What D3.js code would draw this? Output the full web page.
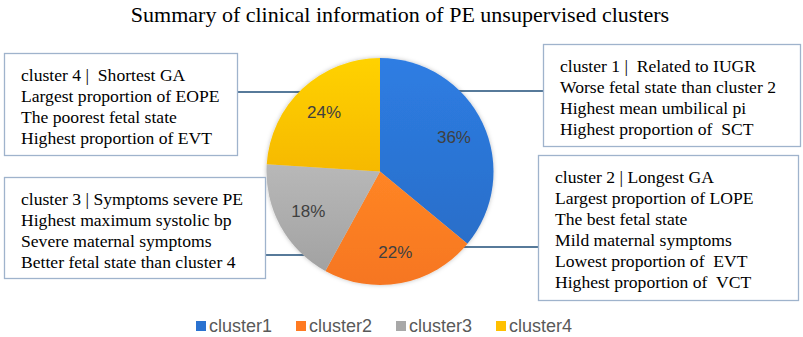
<!DOCTYPE html>
<html>
<head>
<meta charset="utf-8">
<script src="https://cdn.jsdelivr.net/npm/d3@7"></script>
<style>
  body { margin: 0; background: #fff; }
  svg { display: block; }
</style>
</head>
<body>
<svg id="chart" width="803" height="337"></svg>
<script>
'use strict';

// data
var aClusters = ['cluster1', 'cluster2', 'cluster3', 'cluster4'];
var aShares = [36, 22, 18, 24];
var aColors = ['#2a72d0', '#ff7a22', '#a8a8a8', '#ffc000'];
var aNotes = [
  ['cluster 1 |  Related to IUGR', 'Worse fetal state than cluster 2', 'Highest mean umbilical pi', 'Highest proportion of  SCT'],
  ['cluster 2 | Longest GA', 'Largest proportion of LOPE', 'The best fetal state', 'Mild maternal symptoms', 'Lowest proportion of  EVT', 'Highest proportion of  VCT'],
  ['cluster 3 | Symptoms severe PE', 'Highest maximum systolic bp', 'Severe maternal symptoms', 'Better fetal state than cluster 4'],
  ['cluster 4 |  Shortest GA', 'Largest proportion of EOPE', 'The poorest fetal state', 'Highest proportion of EVT']
];
var strTitle = 'Summary of clinical information of PE unsupervised clusters';

// layout of the callout boxes (x, y, w, h, connector y, side)
var aBoxes = [
  {x: 543, y: 44, w: 257, h: 102, ly: 91, side: 'right'},
  {x: 538, y: 155, w: 260, h: 145, ly: 247, side: 'right'},
  {x: 4, y: 177, w: 261, h: 101, ly: 255, side: 'left'},
  {x: 4, y: 53, w: 233, h: 102, ly: 92, side: 'left'}
];

var svg = d3.select('#chart');
var cx = 380, cy = 171.5, radius = 113.5;

var defs = svg.append('defs');
defs.append('filter').attr('id', 'shadow')
    .attr('x', '-10%').attr('y', '-10%').attr('width', '120%').attr('height', '120%')
  .append('feDropShadow')
    .attr('dx', 0).attr('dy', 0).attr('stdDeviation', 2)
    .attr('flood-color', '#000').attr('flood-opacity', 0.25);

aColors.forEach(function(c, i) {
  var g = defs.append('linearGradient').attr('id', 'grad' + i)
      .attr('x1', 0).attr('y1', 0).attr('x2', 0).attr('y2', 1);
  g.append('stop').attr('offset', '0%').attr('stop-color', d3.color(c).brighter(0.25));
  g.append('stop').attr('offset', '100%').attr('stop-color', d3.color(c).darker(0.1));
});

svg.append('text')
    .attr('x', 400).attr('y', 22)
    .attr('text-anchor', 'middle')
    .style('font-family', '"Liberation Serif", "Times New Roman", serif')
    .style('font-size', '22px')
    .attr('fill', '#000')
    .text(strTitle);

var aData = aClusters.map(function(c, i) { return {name: c, value: aShares[i], color: aColors[i], idx: i}; });

var pie = d3.pie().sort(null).value(function(d) { return d.value; });
var arc = d3.arc().innerRadius(0).outerRadius(radius);
var arcLabel = d3.arc().innerRadius(radius * 0.72).outerRadius(radius * 0.72);
var arcs = pie(aData);

// connector lines
var lines = svg.append('g');
aBoxes.forEach(function(b) {
  var dy = b.ly - cy;
  var dx = Math.sqrt(radius * radius - dy * dy) - 6;
  var x1 = b.side == 'right' ? cx + dx : cx - dx;
  var x2 = b.side == 'right' ? b.x : b.x + b.w;
  lines.append('line')
      .attr('x1', x1).attr('x2', x2)
      .attr('y1', b.ly).attr('y2', b.ly)
      .attr('stroke', '#1f4e79').attr('stroke-width', 1.3);
});

var g = svg.append('g')
    .attr('transform', 'translate(' + cx + ',' + cy + ')');

g.append('g').attr('filter', 'url(#shadow)')
  .selectAll('path')
  .data(arcs)
  .join('path')
    .attr('d', arc)
    .attr('fill', function(d) { return 'url(#grad' + d.data.idx + ')'; });

g.append('g')
  .selectAll('text')
  .data(arcs)
  .join('text')
    .attr('transform', function(d) { return 'translate(' + arcLabel.centroid(d) + ')'; })
    .attr('text-anchor', 'middle')
    .attr('dy', '0.35em')
    .style('font-family', '"Liberation Sans", Arial, sans-serif')
    .style('font-size', '17px')
    .attr('fill', '#404040')
    .text(function(d) { return d.data.value + '%'; });

// callout boxes
var boxes = svg.append('g')
  .selectAll('g')
  .data(aBoxes)
  .join('g');

boxes.append('rect')
    .attr('x', function(d) { return d.x + 0.5; })
    .attr('y', function(d) { return d.y + 0.5; })
    .attr('width', function(d) { return d.w; })
    .attr('height', function(d) { return d.h; })
    .attr('fill', '#fff')
    .attr('stroke', '#9fb3cc').attr('stroke-width', 1.3);

boxes.each(function(b, i) {
  var t = d3.select(this).append('text')
      .style('font-family', '"Liberation Serif", "Times New Roman", serif')
      .style('font-size', '17.6px')
      .attr('fill', '#000');
  var lh = aNotes[i].length > 4 ? 21 : 21;
  aNotes[i].forEach(function(s, j) {
    t.append('tspan')
        .attr('x', b.x + 17)
        .attr('y', b.y + 28 + j * lh)
        .attr('xml:space', 'preserve')
        .style('white-space', 'pre')
        .text(s);
  });
});

// legend
var legend = svg.append('g')
  .selectAll('g')
  .data(aData)
  .join('g')
    .attr('transform', function(d, i) { return 'translate(' + (196 + i * 100) + ',321)'; });

legend.append('rect')
    .attr('width', 10).attr('height', 10)
    .attr('fill', function(d) { return d.color; });

legend.append('text')
    .attr('x', 13).attr('y', 11)
    .style('font-family', '"Liberation Sans", Arial, sans-serif')
    .style('font-size', '18px')
    .attr('fill', '#595959')
    .text(function(d) { return d.name; });
</script>
</body>
</html>
